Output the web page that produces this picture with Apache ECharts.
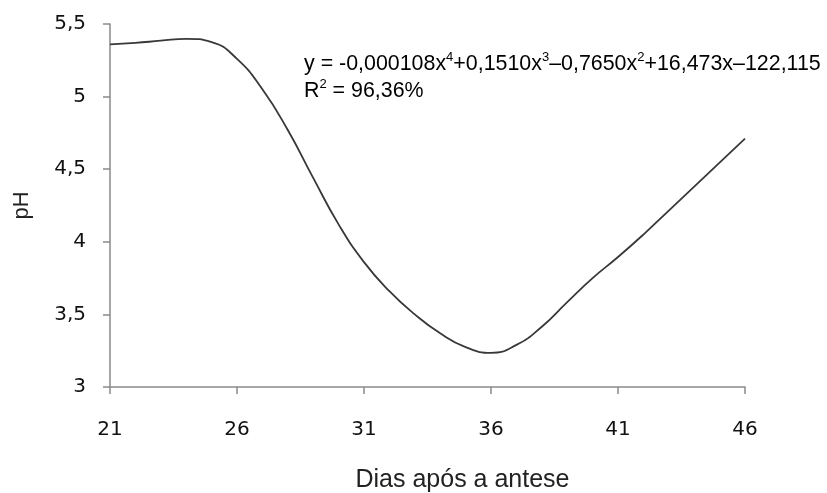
<!DOCTYPE html>
<html lang="pt">
<head>
  <meta charset="UTF-8" />
  <title>pH</title>
  <style>
    * { padding: 0; margin: 0; }
    html, body { width: 100%; height: 100%; background: #fff; }
    #chart { width: 827px; height: 493px; }
  </style>
</head>
<body>
  <div id="chart"></div>
  <script src="https://cdn.jsdelivr.net/npm/echarts@6/dist/echarts.min.js"></script>
  <script>
    // dias após a antese
    var dias = [21, 22, 23, 24, 25, 26, 27, 28, 29, 30, 31, 32, 33, 34, 35, 36, 37, 38, 39, 40, 41, 42, 43, 44, 45, 46]
    var ph = [5.36, 5.37, 5.385, 5.398, 5.375, 5.26, 5.05, 4.77, 4.44, 4.12, 3.86, 3.66, 3.50, 3.37, 3.275, 3.235, 3.29, 3.415, 3.585, 3.75, 3.895, 4.05, 4.215, 4.38, 4.545, 4.71]
    var eqLine = '{t|y = -0,000108x}{s|4}{t|+0,1510x}{s|3}{t|–0,7650x}{s|2}{t|+16,473x–122,115}'
    var r2Line = '{t|R}{s|2}{t| = 96,36%}'

    var points = dias.map(function (d, i) { return [d, ph[i]] })
    var myChart = echarts.init(document.getElementById('chart'))
    var axisGray = '#8a8a8a'
    var tickFont = { fontFamily: 'DejaVu Sans', fontSize: 20, color: '#111' }

    var option = {
      animation: false,
      grid: { left: 110, right: 82, top: 24, bottom: 106, outerBoundsMode: 'none' },
      xAxis: {
        type: 'value',
        min: 21,
        max: 46,
        interval: 5,
        name: 'Dias após a antese',
        nameLocation: 'middle',
        nameGap: 81,
        nameTextStyle: { fontFamily: 'Liberation Sans', fontSize: 25, color: '#222', padding: [0, 0, 0, 70] },
        splitLine: { show: false },
        axisLine: { lineStyle: { color: axisGray, width: 1.5 } },
        axisTick: { length: 7, lineStyle: { color: axisGray, width: 1.5 } },
        axisLabel: Object.assign({ margin: 33 }, tickFont)
      },
      yAxis: {
        type: 'value',
        min: 3,
        max: 5.5,
        interval: 0.5,
        name: 'pH',
        nameLocation: 'middle',
        nameGap: 77,
        nameTextStyle: { fontFamily: 'Liberation Sans', fontSize: 22, color: '#222' },
        splitLine: { show: false },
        axisLine: { show: true, lineStyle: { color: axisGray, width: 1.5 } },
        axisTick: { show: true, length: 7, lineStyle: { color: axisGray, width: 1.5 } },
        axisLabel: Object.assign({
          margin: 24,
          formatter: function (v) { return String(v).replace('.', ',') }
        }, tickFont)
      },
      graphic: [{
        type: 'text',
        left: 304,
        top: 51,
        style: {
          text: eqLine + '\n' + r2Line,
          rich: {
            t: { fontFamily: 'Liberation Sans', fontSize: 21.4, color: '#111', lineHeight: 27 },
            s: { fontFamily: 'Liberation Sans', fontSize: 13, color: '#111', verticalAlign: 'top', lineHeight: 27, padding: [0, 0, 12, 0] }
          }
        }
      }],
      series: [{
        type: 'line',
        data: points,
        smooth: true,
        symbol: 'none',
        lineStyle: { color: '#383838', width: 1.8 }
      }]
    }
    myChart.setOption(option)
  </script>
</body>
</html>
